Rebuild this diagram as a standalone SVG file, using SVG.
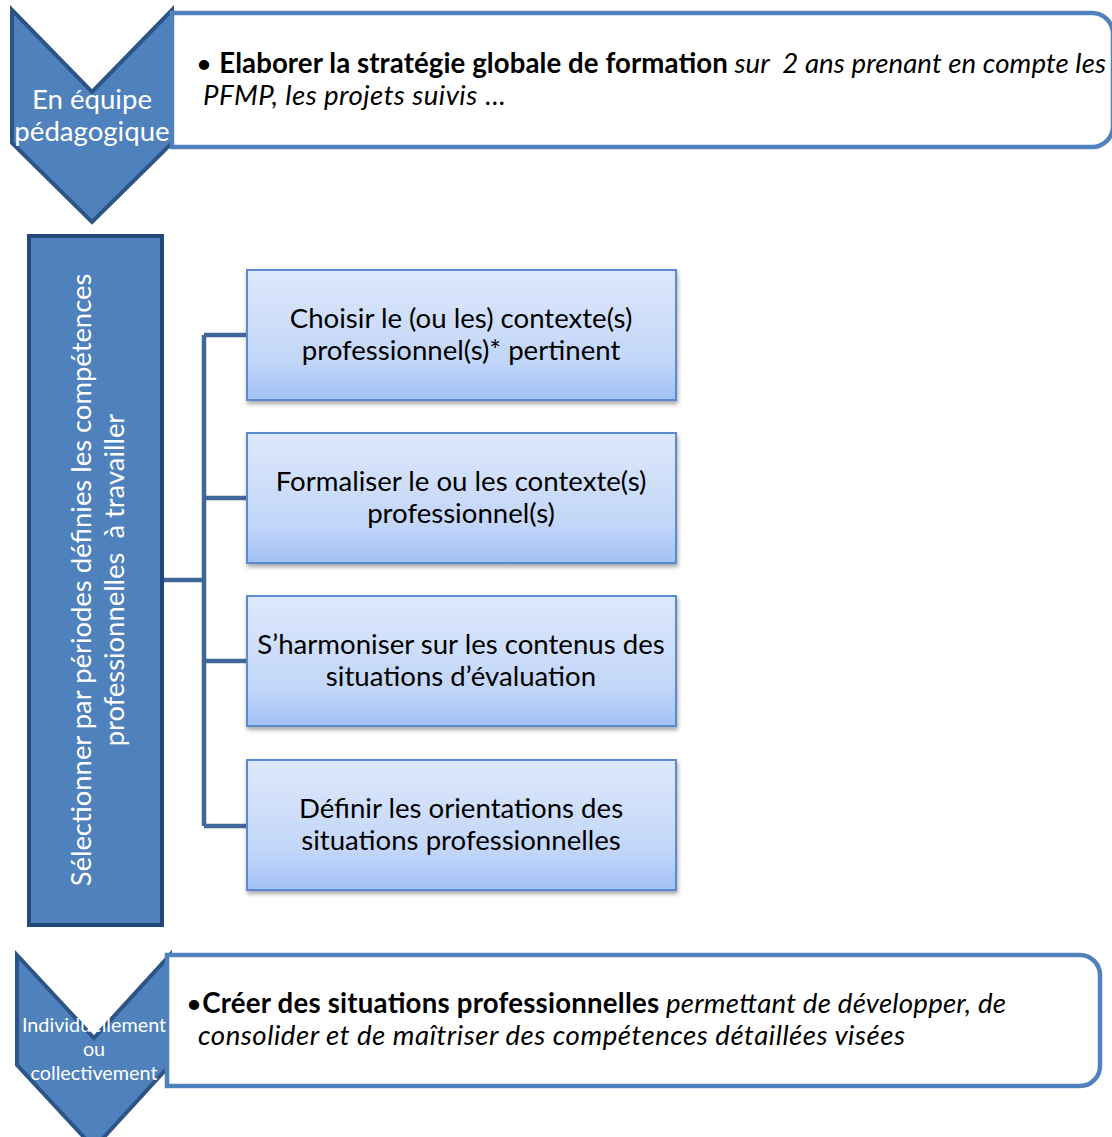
<svg xmlns="http://www.w3.org/2000/svg" width="1112" height="1137" viewBox="0 0 1112 1137">
<style>
.chev{fill:#4F81BD;stroke:#2C5486;stroke-width:4;stroke-linejoin:miter}
.panel{fill:#FFFFFF;stroke:#4F81BD;stroke-width:4.5}
.bar{fill:#4F81BD;stroke:#22497A;stroke-width:4}
.box{fill:url(#g);stroke:#5A8AD0;stroke-width:2;filter:url(#sh)}
.conn{fill:none;stroke:#3F6898;stroke-width:4.5}
.wt{font-family:Lato,"Open Sans",sans-serif;fill:#FFFFFF;text-anchor:middle}
.bt{font-family:Lato,"Open Sans",sans-serif;fill:#000000;text-anchor:middle;font-size:27.6px}
.pt{font-family:Lato,"Open Sans",sans-serif;fill:#000000;font-size:27.6px}
.b{font-weight:bold}
.i{font-style:italic}
</style>
<defs>
<linearGradient id="g" x1="0" y1="0" x2="0" y2="1">
<stop offset="0" stop-color="#DEE8FC"/>
<stop offset="0.7" stop-color="#C2D6F8"/>
<stop offset="1" stop-color="#A3C1F6"/>
</linearGradient>
<filter id="sh" x="-5%" y="-5%" width="115%" height="125%">
<feDropShadow dx="1" dy="3" stdDeviation="2" flood-color="#000" flood-opacity="0.35"/>
</filter>
</defs>

<g id="step1-chevron">
<polygon class="chev" points="12,10 92,92 172,10 172,143 92,222 12,143"/>
</g>
<g id="step1-panel">
<path class="panel" d="M172,13 H1092 A21,21 0 0 1 1113,34 V126 A21,21 0 0 1 1092,147 H172 Z"/>
<text class="pt" x="196" y="73" textLength="910"><tspan>• </tspan><tspan class="b">Elaborer la stratégie globale de formation</tspan><tspan class="i" xml:space="preserve"> sur  2 ans prenant en compte les</tspan></text>
<text class="pt" x="203" y="105" textLength="302"><tspan class="i">PFMP, les projets suivis </tspan><tspan>...</tspan></text>
</g>
<g id="step1-label">
<text class="wt" x="92" y="109" font-size="27.6">En équipe</text>
<text class="wt" x="92" y="141" font-size="27.6">pédagogique</text>
</g>

<g id="connectors">
<path class="conn" d="M162,580 H204 M204,335 V826 M204,335 H247 M204,498 H247 M204,661 H247 M204,826 H247"/>
</g>

<g id="bar">
<rect class="bar" x="29" y="236" width="133" height="689"/>
<g transform="translate(95,580) rotate(-90)">
<text class="wt" x="0" y="-4" font-size="27.4">Sélectionner par périodes définies les compétences</text>
<text class="wt" x="0" y="29" font-size="27.4" xml:space="preserve">professionnelles  à travailler</text>
</g>
</g>

<g id="box1">
<rect class="box" x="247" y="270" width="429" height="130"/>
<text class="bt" x="461" y="328">Choisir le (ou les) contexte(s)</text>
<text class="bt" x="461" y="360">professionnel(s)* pertinent</text>
</g>
<g id="box2">
<rect class="box" x="247" y="433" width="429" height="130"/>
<text class="bt" x="461" y="491">Formaliser le ou les contexte(s)</text>
<text class="bt" x="461" y="523">professionnel(s)</text>
</g>
<g id="box3">
<rect class="box" x="247" y="596" width="429" height="130"/>
<text class="bt" x="461" y="654">S’harmoniser sur les contenus des</text>
<text class="bt" x="461" y="686">situations d’évaluation</text>
</g>
<g id="box4">
<rect class="box" x="247" y="760" width="429" height="130"/>
<text class="bt" x="461" y="818">Définir les orientations des</text>
<text class="bt" x="461" y="850">situations professionnelles</text>
</g>

<g id="step2-chevron">
<polygon class="chev" points="17,955 94,1038 170,955 170,1065 94,1148 17,1065"/>
</g>
<g id="step2-panel">
<path class="panel" d="M167,955 H1080 A20,20 0 0 1 1100,975 V1066 A20,20 0 0 1 1080,1086 H167 Z"/>
<text class="pt" x="186" y="1013" textLength="820"><tspan>•</tspan><tspan class="b">Créer des situations professionnelles</tspan><tspan class="i"> permettant de développer, de</tspan></text>
<text class="pt i" x="198" y="1045" textLength="707">consolider et de maîtriser des compétences détaillées visées</text>
</g>
<g id="step2-label">
<text class="wt" x="94" y="1032" font-size="19.8">Individuellement</text>
<text class="wt" x="94" y="1056" font-size="19.8">ou</text>
<text class="wt" x="94" y="1080" font-size="19.8">collectivement</text>
</g>
</svg>
